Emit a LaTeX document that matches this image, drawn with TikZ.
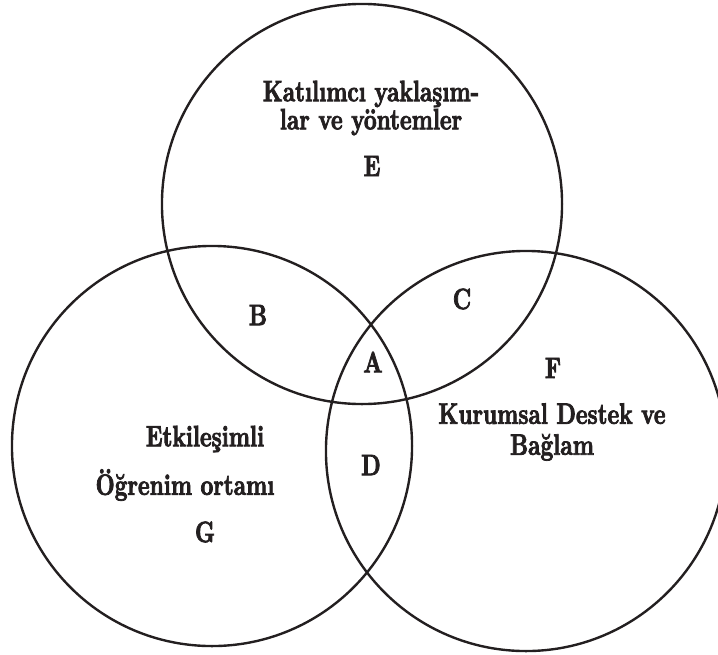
\documentclass[tikz,border=0pt]{standalone}
\usepackage{fontspec}
\newfontfamily\lblfont{lmroman10-bold.otf}[FakeStretch=0.75, FakeBold=2.5]
\definecolor{ink}{HTML}{231F20}
\tikzset{
    ring/.style={circle, draw=ink, line width=1.7pt, minimum size=10cm, inner sep=0pt},
    lbl/.style={text=ink, font=\lblfont\fontsize{21}{20}\selectfont, align=center, inner sep=0pt},
}
\begin{document}
\begin{tikzpicture}[x=0.025cm, y=-0.025cm]
    \useasboundingbox (0,0) rectangle (718,654) ;
    \clip (0,0) rectangle (718,654) ;
    \node [ring] (top) at (362,204) {} ;
    \node [ring] (left) at (212,446) {} ;
    \node [ring] (right) at (526,451) {} ;
    \node [lbl] (katilim) at (371,108) {Katılımcı yaklaşım-\\lar ve yöntemler} ;
    \node [lbl] (e) at (372,166) {E} ;
    \node [lbl] (b) at (258,315) {B} ;
    \node [lbl] (c) at (462,299) {C} ;
    \node [lbl] (a) at (373,362) {A} ;
    \node [lbl] (f) at (553,368) {F} ;
    \node [lbl, font=\lblfont\fontsize{21}{22}\selectfont] (kurum) at (552,432) {Kurumsal Destek ve\\Bağlam} ;
    \node [lbl] (etki) at (205,439) {Etkileşimli} ;
    \node [lbl] (ogren) at (185,485) {Öğrenim ortamı} ;
    \node [lbl] (g) at (205,532) {G} ;
    \node [lbl] (d) at (371,465) {D} ;
\end{tikzpicture}
\end{document}
